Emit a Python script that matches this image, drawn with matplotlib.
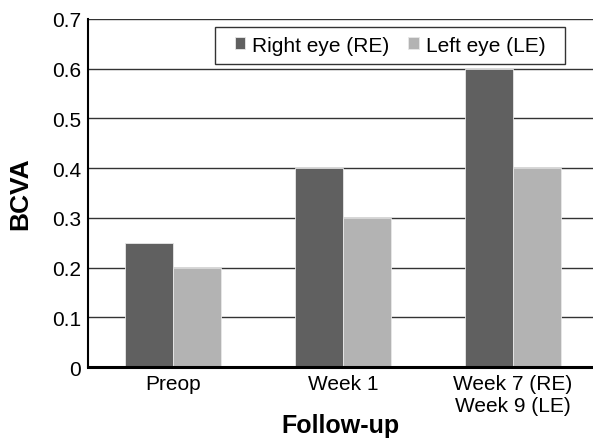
import numpy as np
import matplotlib
matplotlib.use("Agg")
import matplotlib.pyplot as plt
from matplotlib.path import Path

plt.rcParams['font.family'] = ['Liberation Sans', 'DejaVu Sans']

categories = ['Preop', 'Week 1', 'Week 7 (RE)\nWeek 9 (LE)']
right_eye = [0.25, 0.4, 0.6]
left_eye = [0.2, 0.3, 0.4]
series_names = ['Right eye (RE)', 'Left eye (LE)']
yticks = [0, 0.1, 0.2, 0.3, 0.4, 0.5, 0.6, 0.7]

dark = '#606060'
light = '#b3b3b3'


def wide_box(x0, y0, width, height, mutation_size):
    # legend frame with more room left/right than top/bottom
    px = 0.52 * mutation_size
    x0, x1 = x0 - px, x0 + width + px
    y1 = y0 + height
    return Path([(x0, y0), (x1, y0), (x1, y1), (x0, y1), (x0, y0)], closed=True)


fig = plt.figure(figsize=(5.93, 4.39), dpi=100)
# axes right edge runs past the image like the reference
ax = fig.add_axes([88 / 593, 1 - 368 / 439, 510 / 593, 348 / 439])

x = np.arange(len(categories))
w = 0.285
ax.bar(x - w / 2, right_eye, w, color=dark, edgecolor='#e8e8e8', linewidth=0.6,
       label=series_names[0], zorder=2)
ax.bar(x + w / 2, left_eye, w, color=light, edgecolor='#e8e8e8', linewidth=0.6,
       label=series_names[1], zorder=2)

ax.set_xlim(-0.5, 2.5)
ax.set_ylim(0, 0.7)
ax.set_yticks(yticks)
ax.set_yticklabels(['0'] + ['%.1f' % v for v in yticks[1:]])
ax.yaxis.grid(True, color='#333333', linewidth=1.0, zorder=0)
ax.set_axisbelow(True)
ax.set_xticks(x)
ax.set_xticklabels(categories, linespacing=1.2)
ax.tick_params(axis='both', length=0, labelsize=15, colors='black')
ax.tick_params(axis='x', pad=5)
ax.tick_params(axis='y', pad=5)

for s in ['right', 'top']:
    ax.spines[s].set_visible(False)
ax.spines['left'].set_linewidth(1.5)
ax.spines['bottom'].set_linewidth(2.2)

ax.set_ylabel('BCVA', fontsize=19, fontweight='bold', labelpad=14)
ax.set_xlabel('Follow-up', fontsize=18, fontweight='bold', labelpad=0)
ax.xaxis.set_label_coords(0.495, -0.132)

leg = ax.legend(loc='upper left', bbox_to_anchor=(138 / 510, 1 - 8 / 348), ncol=2,
                frameon=True, fancybox=False, fontsize=15, handlelength=0.5,
                handleheight=0.5, handletextpad=0.35, columnspacing=0.9,
                borderpad=0.42, borderaxespad=0)
leg.get_frame().set_boxstyle(wide_box)
leg.get_frame().set_edgecolor('black')
leg.get_frame().set_linewidth(1.0)

fig.savefig('out.png', dpi=100)
